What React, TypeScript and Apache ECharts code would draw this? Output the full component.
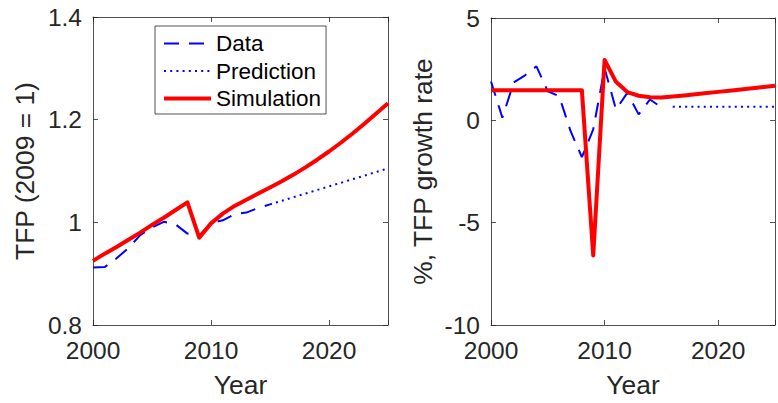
import React, { useEffect, useRef } from "react";
import * as echarts from "echarts";

// Years
const dataYears = [2000, 2001, 2002, 2003, 2004, 2005, 2006, 2007, 2008, 2009, 2010, 2011, 2012, 2013, 2014, 2015];
const predLevelYears = [2015, 2016, 2017, 2018, 2019, 2020, 2021, 2022, 2023, 2024, 2025];
const predGrowthYears = [2016, 2017, 2018, 2019, 2020, 2021, 2022, 2023, 2024, 2025];
const simYears = [2000, 2001, 2002, 2003, 2004, 2005, 2006, 2007, 2008, 2009, 2010, 2011, 2012, 2013, 2014, 2015, 2016, 2017, 2018, 2019, 2020, 2021, 2022, 2023, 2024, 2025];

// Left panel: TFP level (2009 = 1)
const dataLevel = [0.912, 0.913, 0.930, 0.950, 0.975, 0.990, 1.001, 0.996, 0.978, 0.974, 0.999, 1.004, 1.016, 1.019, 1.028, 1.035];
const predLevel = [1.035, 1.042, 1.049, 1.056, 1.063, 1.070, 1.077, 1.084, 1.091, 1.098, 1.105];
const simLevel = [0.925, 0.939, 0.952, 0.966, 0.980, 0.995, 1.009, 1.024, 1.039, 0.970, 0.998, 1.017, 1.032, 1.044, 1.056, 1.068, 1.080, 1.093, 1.107, 1.122, 1.138, 1.155, 1.173, 1.192, 1.212, 1.232];

// Right panel: % TFP growth rate
const dataGrowth = [1.9, 0.13, 1.85, 2.2, 2.64, 1.42, 1.18, -0.52, -1.8, -0.44, 2.55, 0.53, 1.34, 0.29, 1.02, 0.63];
const predGrowth = [0.66, 0.66, 0.66, 0.66, 0.66, 0.66, 0.66, 0.66, 0.66, 0.66];
const simGrowth = [1.47, 1.47, 1.47, 1.47, 1.47, 1.47, 1.47, 1.47, 1.47, -6.6, 2.95, 1.88, 1.38, 1.2, 1.13, 1.12, 1.16, 1.21, 1.27, 1.33, 1.39, 1.45, 1.51, 1.57, 1.63, 1.69];

// Tick settings
const xTicks = { min: 2000, max: 2025, interval: 10 };
const yLevelTicks = { min: 0.8, max: 1.4, interval: 0.2 };
const yGrowthTicks = { min: -10, max: 5, interval: 5 };

const FONT = "'Liberation Sans', Arial, Helvetica, sans-serif";
const INK = "#262626";

const zip = (xs: number[], ys: number[]) => xs.map((x, i) => [x, ys[i]]);

function xAxisDef(gridIndex: number, position: "bottom" | "top", labels: boolean) {
  return {
    type: "value",
    gridIndex,
    position,
    min: xTicks.min,
    max: xTicks.max,
    interval: xTicks.interval,
    name: labels ? "Year" : "",
    nameLocation: "middle",
    nameGap: 47,
    nameTextStyle: { color: INK, fontSize: 26.4, fontFamily: FONT },
    axisLine: { show: true, onZero: false, lineStyle: { color: INK, width: 0.8 } },
    axisTick: { show: true, inside: true, length: 5, lineStyle: { color: INK, width: 0.8 } },
    axisLabel: {
      show: labels,
      margin: 13,
      color: INK,
      fontSize: 24.5,
      fontFamily: FONT,
      formatter: (v: number) => (v % 10 === 0 ? String(v) : ""),
    },
    splitLine: { show: false },
  };
}

function yAxisDef(
  gridIndex: number,
  position: "left" | "right",
  labels: boolean,
  t: { min: number; max: number; interval: number },
  name: string
) {
  return {
    type: "value",
    gridIndex,
    position,
    min: t.min,
    max: t.max,
    interval: t.interval,
    name: labels ? name : "",
    nameLocation: "middle",
    nameGap: 55,
    nameTextStyle: { color: INK, fontSize: 26.4, fontFamily: FONT },
    axisLine: { show: true, onZero: false, lineStyle: { color: INK, width: 0.8 } },
    axisTick: { show: true, inside: true, length: 5, lineStyle: { color: INK, width: 0.8 } },
    axisLabel: {
      show: labels,
      margin: 11,
      color: INK,
      fontSize: 24.5,
      fontFamily: FONT,
      formatter: (v: number) => String(+v.toFixed(1)),
    },
    splitLine: { show: false },
  };
}

export default function App() {
  const ref = useRef<HTMLDivElement>(null);

  useEffect(() => {
    document.body.style.margin = "0";
    if (!ref.current) return;
    const chart = echarts.init(ref.current, undefined, { renderer: "svg" });

    const dashed = { color: "#0000ff", width: 2, type: [15, 10] as any };
    const dotted = { color: "#0000ff", width: 2, type: [2, 4.2] as any };
    const solid = { color: "#ff0000", width: 4, type: "solid", join: "round", cap: "butt" };

    const lineSeries = (name: string, data: number[][], ls: any, xi: number, yi: number) => ({
      name,
      type: "line",
      xAxisIndex: xi,
      yAxisIndex: yi,
      data,
      showSymbol: false,
      symbol: "none",
      color: ls.color,
      lineStyle: ls,
      z: name === "Simulation" ? 3 : 2,
    });

    chart.setOption({
      animation: false,
      backgroundColor: "#ffffff",
      textStyle: { fontFamily: FONT },
      grid: [
        { left: 93, top: 17, width: 295, height: 310, containLabel: false },
        { left: 491, top: 18, width: 296, height: 309, containLabel: false },
      ],
      legend: {
        left: 155,
        top: 26,
        orient: "vertical",
        data: ["Data", "Prediction", "Simulation"],
        itemWidth: 47,
        itemHeight: 22,
        itemGap: 4.5,
        padding: [6, 5, 4, 7],
        borderColor: INK,
        borderWidth: 0.8,
        borderRadius: 0,
        backgroundColor: "#ffffff",
        textStyle: { color: "#000000", fontSize: 22.5, fontFamily: FONT, lineHeight: 22 },
        lineStyle: { width: "inherit" },
        itemStyle: { color: "transparent", borderWidth: 0, opacity: 0 },
        selectedMode: false,
        z: 10,
      },
      xAxis: [
        xAxisDef(0, "bottom", true),
        xAxisDef(0, "top", false),
        xAxisDef(1, "bottom", true),
        xAxisDef(1, "top", false),
      ],
      yAxis: [
        yAxisDef(0, "left", true, yLevelTicks, "TFP (2009 = 1)"),
        yAxisDef(0, "right", false, yLevelTicks, ""),
        yAxisDef(1, "left", true, yGrowthTicks, "%, TFP growth rate"),
        yAxisDef(1, "right", false, yGrowthTicks, ""),
      ],
      series: [
        lineSeries("Data", zip(dataYears, dataLevel), dashed, 0, 0),
        lineSeries("Prediction", zip(predLevelYears, predLevel), dotted, 0, 0),
        lineSeries("Simulation", zip(simYears, simLevel), solid, 0, 0),
        lineSeries("Data", zip(dataYears, dataGrowth), dashed, 2, 2),
        lineSeries("Prediction", zip(predGrowthYears, predGrowth), dotted, 2, 2),
        lineSeries("Simulation", zip(simYears, simGrowth), solid, 2, 2),
      ],
    });

    return () => {
      chart.dispose();
    };
  }, []);

  return (
    <div
      ref={ref}
      style={{ position: "absolute", left: 0, top: 0, width: 778, height: 403, background: "#fff" }}
    />
  );
}
